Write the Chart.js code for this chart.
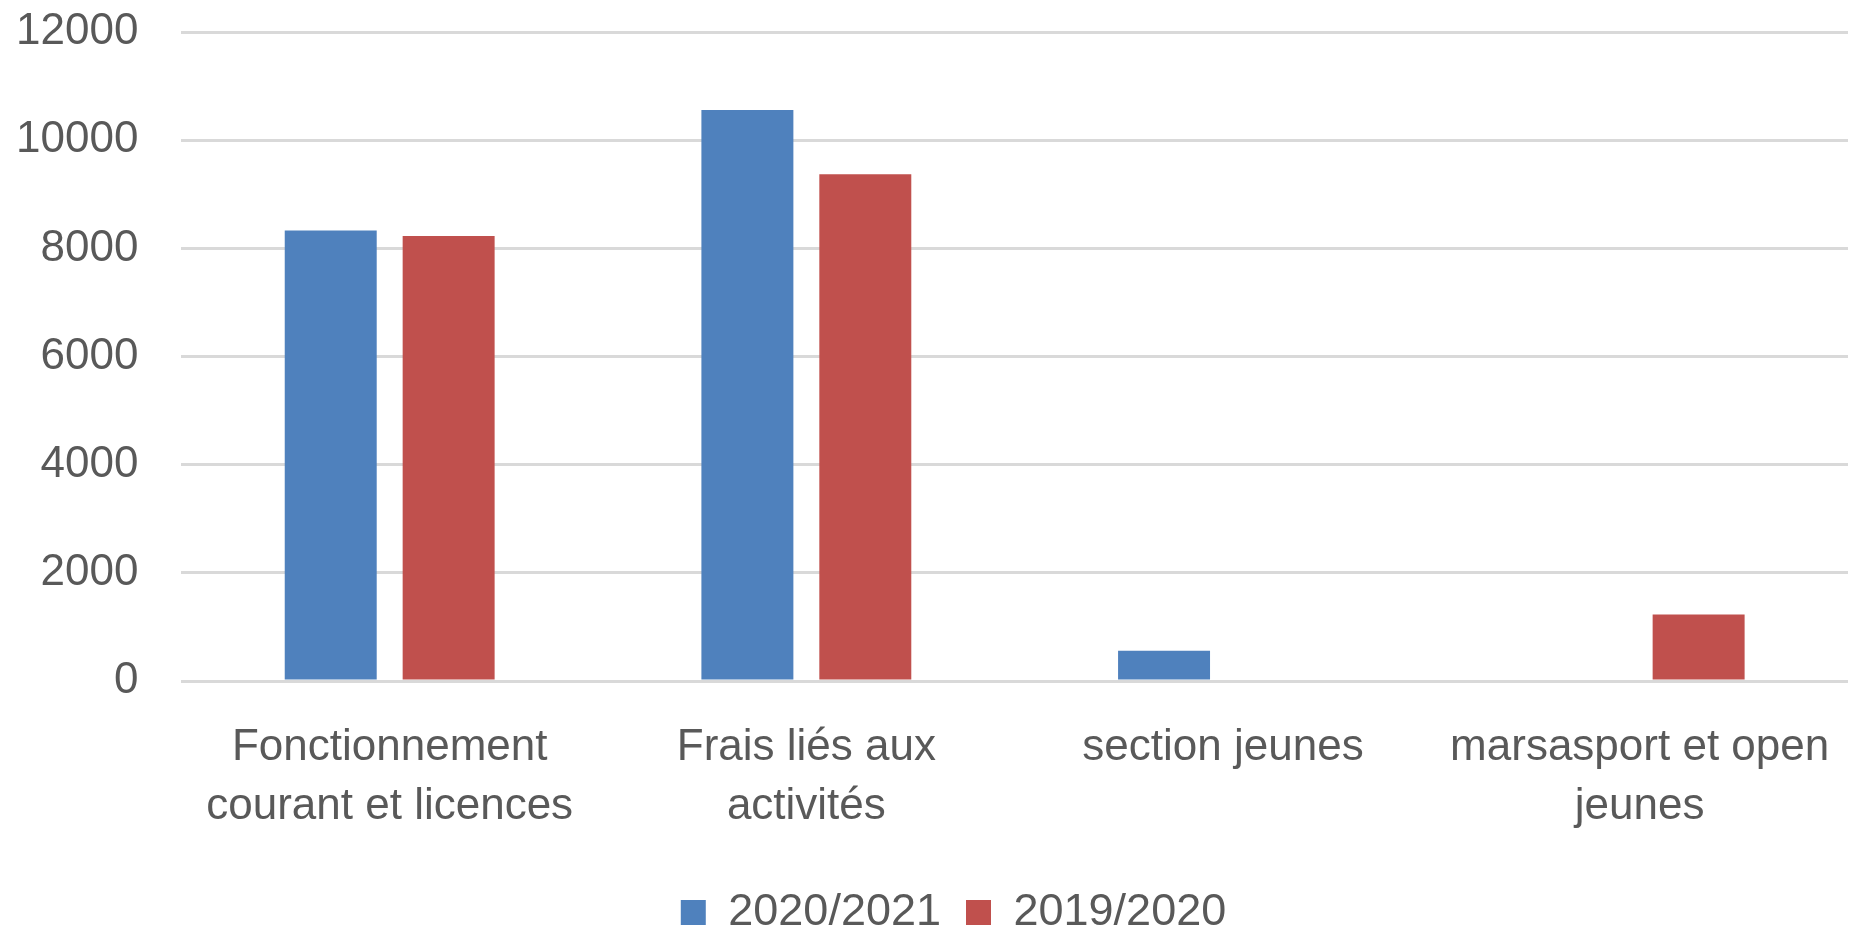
<!DOCTYPE html>
<html>
<head>
<meta charset="utf-8">
<script src="https://cdn.jsdelivr.net/npm/chart.js@4/dist/chart.umd.min.js"></script>
<style>
  html, body { margin: 0; padding: 0; background: #fff; }
  #wrap { width: 1854px; height: 931px; }
</style>
</head>
<body>
<div id="wrap"><canvas id="depensesChart"></canvas></div>
<script>
const categories = [
  ["Fonctionnement", "courant et licences"],
  ["Frais liés aux", "activités"],
  "section jeunes",
  ["marsasport et open", "jeunes"]
];
const saison2021 = [8330, 10560, 560, 0];
const saison1920 = [8230, 9370, 0, 1230];
const yTicks = [0, 2000, 4000, 6000, 8000, 10000, 12000];

const textColor = "#595959";
const gridColor = "#d9d9d9";
const font = { family: "'Liberation Sans', Arial, sans-serif", size: 44 };

// keep chart.js from reserving extra room for the outer tick labels
const noPad = (scale) => {
  scale.paddingTop = 0;
  scale.paddingBottom = 0;
  scale.paddingLeft = 0;
  scale.paddingRight = 0;
};

// legend sits a bit right of the canvas centre in the original
const legendShift = {
  id: "legendShift",
  afterLayout(chart) {
    chart.legend.left += 43;
    chart.legend.right += 43;
  }
};

new Chart(document.getElementById("depensesChart"), {
  type: "bar",
  data: {
    labels: categories,
    datasets: [
      {
        label: "2020/2021",
        data: saison2021,
        backgroundColor: "#4f81bd",
        categoryPercentage: 0.566,
        barPercentage: 0.78
      },
      {
        label: "2019/2020",
        data: saison1920,
        backgroundColor: "#c0504d",
        categoryPercentage: 0.566,
        barPercentage: 0.78
      }
    ]
  },
  options: {
    responsive: true,
    maintainAspectRatio: false,
    animation: false,
    layout: { padding: { left: -27, right: 6, top: 32, bottom: -14 } },
    plugins: {
      legend: {
        position: "bottom",
        labels: {
          color: textColor,
          font: { ...font, size: 45 },
          boxWidth: 25,
          boxHeight: 25,
          padding: 25
        }
      },
      tooltip: { enabled: false }
    },
    scales: {
      y: {
        min: 0,
        max: yTicks[yTicks.length - 1],
        afterBuildTicks: (axis) => { axis.ticks = yTicks.map(v => ({ value: v })); },
        afterFit: noPad,
        border: { display: false },
        grid: { color: gridColor, lineWidth: 3, drawTicks: false },
        ticks: {
          color: textColor,
          font: font,
          padding: 43,
          callback: (v) => String(v)
        }
      },
      x: {
        afterFit: noPad,
        border: { display: false },
        grid: { display: false },
        ticks: {
          color: textColor,
          font: { ...font, lineHeight: 1.34 },
          padding: 29,
          maxRotation: 0,
          autoSkip: false
        }
      }
    }
  },
  plugins: [legendShift]
});
</script>
</body>
</html>
